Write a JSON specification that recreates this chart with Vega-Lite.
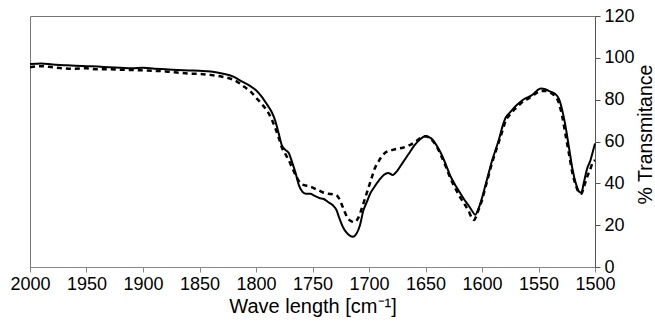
{
  "$schema": "https://vega.github.io/schema/vega-lite/v6.json",
  "width": 565,
  "height": 251,
  "autosize": {"type": "none"},
  "padding": {"left": 30, "top": 16, "right": 60, "bottom": 56},
  "background": "white",
  "config": {
    "view": {"stroke": "#777", "strokeWidth": 1},
    "font": "Liberation Sans"
  },
  "datasets": {
    "S": [
      {"wn":2000,"t":97},{"wn":1990,"t":97.3},{"wn":1980,"t":96.8},{"wn":1970,"t":96.5},{"wn":1960,"t":96.2},{"wn":1950,"t":96.0},{"wn":1940,"t":95.8},{"wn":1930,"t":95.5},{"wn":1920,"t":95.3},{"wn":1910,"t":95.0},{"wn":1900,"t":95.2},{"wn":1890,"t":94.8},{"wn":1880,"t":94.5},{"wn":1870,"t":94.2},{"wn":1860,"t":94.0},{"wn":1850,"t":93.8},{"wn":1840,"t":93.5},{"wn":1830,"t":92.5},{"wn":1820,"t":91},{"wn":1815,"t":89.5},{"wn":1810,"t":88},{"wn":1805,"t":86.5},{"wn":1800,"t":84.5},{"wn":1795,"t":81.5},{"wn":1790,"t":77.5},{"wn":1786,"t":74},{"wn":1783,"t":70},{"wn":1780,"t":64},{"wn":1777,"t":58},{"wn":1774,"t":56},{"wn":1771,"t":54.5},{"wn":1768,"t":50},{"wn":1765,"t":45},{"wn":1762,"t":39},{"wn":1759,"t":36},{"wn":1756,"t":35},{"wn":1752,"t":35},{"wn":1748,"t":34},{"wn":1744,"t":33},{"wn":1740,"t":32.5},{"wn":1736,"t":31},{"wn":1732,"t":29.5},{"wn":1729,"t":27.5},{"wn":1726,"t":23},{"wn":1723,"t":19},{"wn":1720,"t":16.5},{"wn":1717,"t":15},{"wn":1714,"t":14.5},{"wn":1711,"t":16},{"wn":1708,"t":20},{"wn":1705,"t":27},{"wn":1702,"t":31},{"wn":1699,"t":35},{"wn":1695,"t":38.5},{"wn":1691,"t":41.5},{"wn":1687,"t":44},{"wn":1683,"t":45},{"wn":1679,"t":44},{"wn":1675,"t":46},{"wn":1670,"t":50},{"wn":1665,"t":54},{"wn":1660,"t":58},{"wn":1655,"t":61},{"wn":1650,"t":62.5},{"wn":1645,"t":61.5},{"wn":1640,"t":58},{"wn":1636,"t":54},{"wn":1632,"t":49},{"wn":1628,"t":43.5},{"wn":1624,"t":39.5},{"wn":1620,"t":36},{"wn":1616,"t":32.5},{"wn":1612,"t":29.5},{"wn":1609,"t":27},{"wn":1606,"t":25},{"wn":1603,"t":28},{"wn":1600,"t":33},{"wn":1597,"t":39},{"wn":1594,"t":45},{"wn":1591,"t":51},{"wn":1588,"t":56},{"wn":1585,"t":61},{"wn":1582,"t":67},{"wn":1579,"t":71.5},{"wn":1575,"t":74},{"wn":1571,"t":76.5},{"wn":1567,"t":78.5},{"wn":1563,"t":80.2},{"wn":1559,"t":81.2},{"wn":1555,"t":82.5},{"wn":1551,"t":84.5},{"wn":1548,"t":85.3},{"wn":1544,"t":85},{"wn":1540,"t":84},{"wn":1536,"t":83},{"wn":1532,"t":80.5},{"wn":1529,"t":75},{"wn":1526,"t":67},{"wn":1523,"t":57},{"wn":1520,"t":47},{"wn":1517,"t":40},{"wn":1514,"t":36},{"wn":1512,"t":35.5},{"wn":1510,"t":40},{"wn":1507,"t":47},{"wn":1504,"t":51},{"wn":1502,"t":55},{"wn":1500,"t":59}
    ],
    "D": [
      {"wn":2000,"t":95.5},{"wn":1990,"t":96},{"wn":1980,"t":95.5},{"wn":1970,"t":95},{"wn":1960,"t":94.8},{"wn":1950,"t":95},{"wn":1940,"t":94.5},{"wn":1930,"t":94.5},{"wn":1920,"t":94.3},{"wn":1910,"t":94.2},{"wn":1900,"t":94},{"wn":1890,"t":93.8},{"wn":1880,"t":93.5},{"wn":1870,"t":93},{"wn":1860,"t":92.5},{"wn":1850,"t":92.3},{"wn":1840,"t":91.8},{"wn":1830,"t":91},{"wn":1820,"t":89.5},{"wn":1815,"t":88},{"wn":1810,"t":86},{"wn":1805,"t":84},{"wn":1800,"t":81},{"wn":1795,"t":78},{"wn":1790,"t":74.5},{"wn":1786,"t":70.5},{"wn":1783,"t":66.5},{"wn":1780,"t":62},{"wn":1777,"t":57},{"wn":1774,"t":54},{"wn":1771,"t":51},{"wn":1768,"t":47.5},{"wn":1765,"t":44},{"wn":1762,"t":41},{"wn":1759,"t":39.5},{"wn":1756,"t":39},{"wn":1752,"t":38.5},{"wn":1748,"t":37.5},{"wn":1744,"t":36.5},{"wn":1740,"t":35.5},{"wn":1736,"t":35},{"wn":1732,"t":34.8},{"wn":1728,"t":34},{"wn":1725,"t":31},{"wn":1722,"t":27},{"wn":1719,"t":23.5},{"wn":1716,"t":22},{"wn":1713,"t":21.5},{"wn":1710,"t":23},{"wn":1707,"t":27},{"wn":1704,"t":32},{"wn":1701,"t":37},{"wn":1698,"t":42},{"wn":1695,"t":47},{"wn":1691,"t":51},{"wn":1687,"t":54},{"wn":1683,"t":55.5},{"wn":1679,"t":56},{"wn":1675,"t":56.5},{"wn":1670,"t":57},{"wn":1665,"t":58},{"wn":1660,"t":59.5},{"wn":1655,"t":61.5},{"wn":1650,"t":62.5},{"wn":1645,"t":61},{"wn":1640,"t":57.5},{"wn":1636,"t":53},{"wn":1632,"t":48},{"wn":1628,"t":42.5},{"wn":1624,"t":38},{"wn":1620,"t":34},{"wn":1616,"t":30.5},{"wn":1612,"t":27},{"wn":1609,"t":23.5},{"wn":1607,"t":22.5},{"wn":1604,"t":26},{"wn":1600,"t":32},{"wn":1597,"t":38},{"wn":1594,"t":44},{"wn":1591,"t":50},{"wn":1588,"t":55},{"wn":1585,"t":60},{"wn":1582,"t":65},{"wn":1579,"t":70},{"wn":1575,"t":73},{"wn":1571,"t":75.5},{"wn":1567,"t":77.5},{"wn":1563,"t":79.5},{"wn":1559,"t":80.5},{"wn":1555,"t":82},{"wn":1551,"t":83.5},{"wn":1548,"t":84.2},{"wn":1544,"t":84.2},{"wn":1540,"t":83.5},{"wn":1536,"t":82},{"wn":1532,"t":78.5},{"wn":1529,"t":72},{"wn":1526,"t":63},{"wn":1523,"t":54},{"wn":1520,"t":45},{"wn":1517,"t":39},{"wn":1514,"t":35.5},{"wn":1512,"t":35},{"wn":1510,"t":38},{"wn":1507,"t":43},{"wn":1504,"t":47},{"wn":1502,"t":50},{"wn":1500,"t":51}
    ]
  },
  "layer": [
    {
      "data": {"name": "D"},
      "mark": {"type": "line", "color": "black", "strokeWidth": 2.5, "strokeDash": [5, 4], "interpolate": "monotone"},
      "encoding": {
        "x": {"field": "wn", "type": "quantitative", "scale": {"domain": [2000, 1500], "nice": false},
          "axis": {"title": "Wave length [cm⁻¹]", "format": "d", "values": [2000,1950,1900,1850,1800,1750,1700,1650,1600,1550,1500], "grid": false, "domainColor": "#888", "tickColor": "#888", "tickSize": 5, "labelFontSize": 18, "labelColor": "black", "labelPadding": 3, "titleFontSize": 20, "titleFontWeight": "normal", "titleColor": "black", "titlePadding": 3, "labelFlush": false}},
        "y": {"field": "t", "type": "quantitative", "scale": {"domain": [0, 120], "nice": false},
          "axis": {"orient": "right", "title": "% Transmitance", "values": [0,20,40,60,80,100,120], "grid": false, "domainColor": "#555", "tickColor": "#555", "tickSize": 5, "labelFontSize": 18, "labelColor": "black", "labelPadding": 4, "titleFontSize": 19.5, "titleFontWeight": "normal", "titleColor": "black", "titleAngle": 270, "titleAlign": "center", "titleBaseline": "middle", "titleX": 50, "titleY": 118}}
      }
    },
    {
      "data": {"name": "S"},
      "mark": {"type": "line", "color": "black", "strokeWidth": 2, "interpolate": "monotone"},
      "encoding": {
        "x": {"field": "wn", "type": "quantitative"},
        "y": {"field": "t", "type": "quantitative"}
      }
    }
  ]
}
